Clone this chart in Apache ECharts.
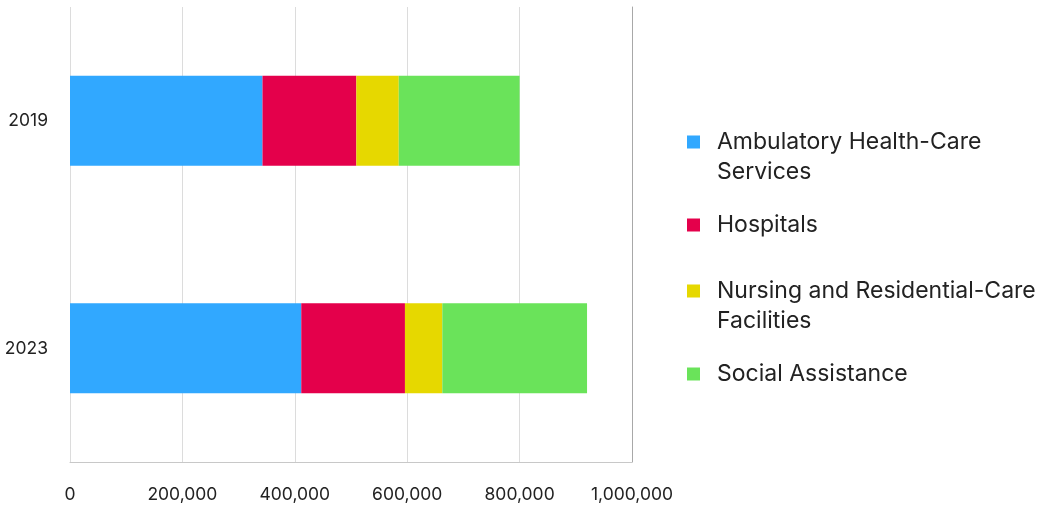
<!DOCTYPE html>
<html>
<head>
<meta charset="utf-8">
<script src="https://cdn.jsdelivr.net/npm/echarts@6/dist/echarts.min.js"></script>
<style>
  html, body { margin: 0; padding: 0; background: #fff; }
  #chart { width: 1062px; height: 505px; }
</style>
</head>
<body>
<div id="chart"></div>
<script>
// Health-care and social assistance employment by segment
const years = ['2019', '2023'];
const seriesNames = [
  'Ambulatory Health-Care Services',
  'Hospitals',
  'Nursing and Residential-Care Facilities',
  'Social Assistance'
];
const ambulatory = [342500, 411500];
const hospitals = [167000, 184500];
const nursing = [75500, 66500];
const social = [215000, 257500];
const xTicks = [0, 200000, 400000, 600000, 800000, 1000000];

const colors = ['#31A8FF', '#E4004B', '#E6D800', '#6AE35A'];
const values = [ambulatory, hospitals, nursing, social];
const legendText = [
  'Ambulatory Health-Care\nServices',
  'Hospitals',
  'Nursing and Residential-Care\nFacilities',
  'Social Assistance'
];
const legendTops = [127, 210, 276, 359];

const fontFamily = 'Inter, "Noto Sans", sans-serif';

// 13px square at the top-left of a w×h box, so it lines up with the first text line
function iconPath(w, h) {
  return 'path://M0,0h13v13h-13z M' + w + ',' + h + 'L' + w + ',' + h;
}

const legends = seriesNames.map((name, i) => {
  const twoLine = legendText[i].indexOf('\n') >= 0;
  const w = 25;
  const h = twoLine ? 43 : 13;
  return {
    left: 687,
    top: legendTops[i],
    padding: 0,
    orient: 'vertical',
    data: [{ name: name, icon: iconPath(w, h) }],
    itemWidth: w,
    itemHeight: h,
    selectedMode: false,
    formatter: () => legendText[i],
    textStyle: {
      fontFamily: fontFamily,
      fontSize: 23,
      lineHeight: 30,
      color: '#222'
    }
  };
});

const chart = echarts.init(document.getElementById('chart'), null, { renderer: 'canvas' });
chart.setOption({
  animation: false,
  color: colors,
  grid: { left: 70, right: 430, top: 7, bottom: 43, containLabel: false },
  legend: legends,
  xAxis: {
    type: 'value',
    min: xTicks[0],
    max: xTicks[xTicks.length - 1],
    interval: xTicks[1] - xTicks[0],
    axisLine: { show: true, lineStyle: { color: '#c8c8c8', width: 1 } },
    axisTick: { show: false },
    splitLine: { show: true, lineStyle: { color: '#dcdcdc', width: 1 } },
    axisLabel: {
      margin: 24,
      fontFamily: fontFamily,
      fontSize: 17.5,
      color: '#222',
      formatter: v => v.toLocaleString('en-US')
    }
  },
  yAxis: [
    {
      type: 'category',
      data: years,
      inverse: true,
      axisLine: { show: false },
      axisTick: { show: false },
      axisLabel: {
        margin: 22,
        fontFamily: fontFamily,
        fontSize: 17.5,
        color: '#222'
      }
    },
    {
      type: 'category',
      data: years,
      inverse: true,
      position: 'right',
      axisLine: { show: true, lineStyle: { color: '#a8a8a8', width: 1 } },
      axisTick: { show: false },
      axisLabel: { show: false }
    }
  ],
  series: seriesNames.map((name, i) => ({
    name: name,
    type: 'bar',
    stack: 'total',
    barWidth: 90,
    data: values[i],
    itemStyle: { color: colors[i] }
  }))
});
</script>
</body>
</html>
